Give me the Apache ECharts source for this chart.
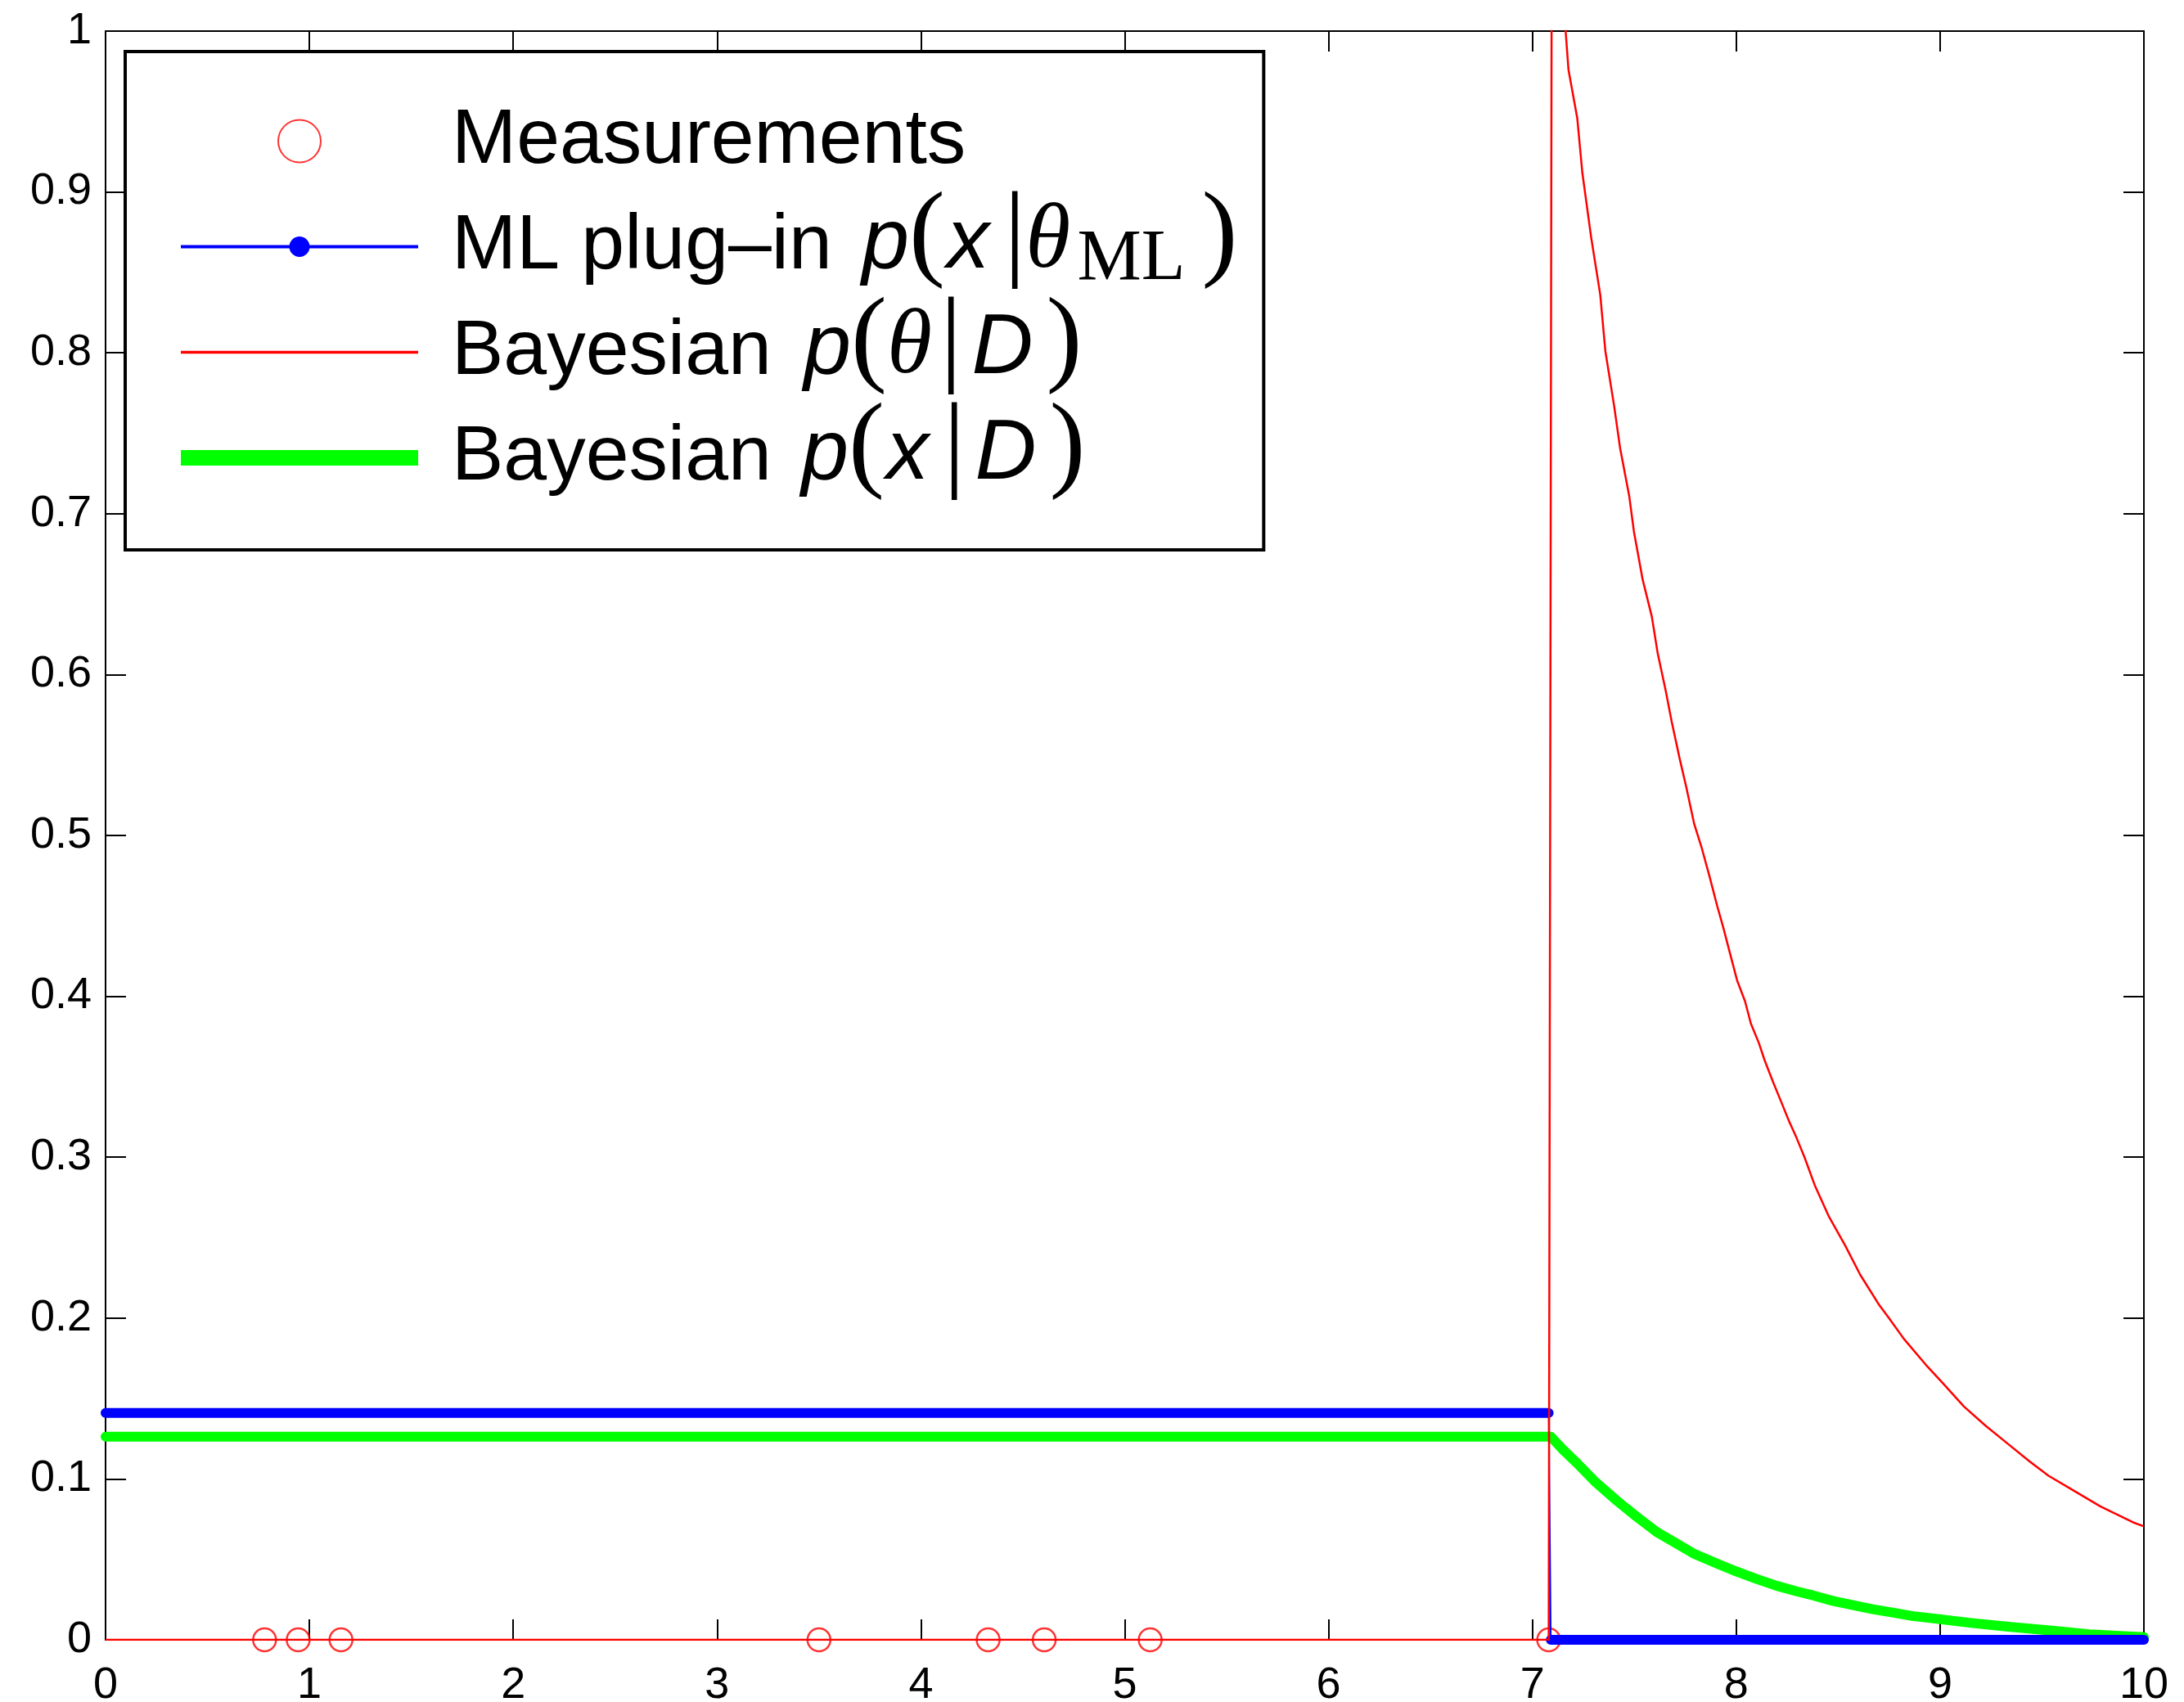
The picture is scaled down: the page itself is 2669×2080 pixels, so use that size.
<!DOCTYPE html>
<html>
<head>
<meta charset="utf-8">
<script src="https://cdn.jsdelivr.net/npm/echarts@6/dist/echarts.min.js"></script>
<style>
  html, body { margin: 0; padding: 0; background: #ffffff; }
  #chart { width: 2669px; height: 2080px; }
</style>
</head>
<body>
<div id="chart"></div>
<script>
// Observed samples, all plotted on the x-axis
const measurementX = [0.78, 0.945, 1.155, 3.50, 4.33, 4.605, 5.125, 7.08];
const measurementY = [0, 0, 0, 0, 0, 0, 0, 0];

// ML plug-in density p(x|θ_ML): uniform up to the largest sample
const mlX = [0, 7.08, 7.09, 10];
const mlY = [0.141, 0.141, 0, 0];

// Posterior p(θ|D)
const postX = [0, 7.08, 7.095, 7.163, 7.177, 7.220, 7.245, 7.288, 7.333, 7.358, 7.401, 7.430, 7.475, 7.498,
  7.541, 7.586, 7.615, 7.654, 7.683, 7.722, 7.755, 7.794, 7.829, 7.868, 7.907, 7.936, 7.975, 8.004,
  8.043, 8.072, 8.111, 8.140, 8.183, 8.222, 8.257, 8.296, 8.335, 8.387, 8.455, 8.535, 8.608, 8.702,
  8.749, 8.823, 8.930, 9.010, 9.117, 9.224, 9.331, 9.438, 9.532, 9.652, 9.786, 9.947, 10];
const postY = [0, 0, 1.07, 1.0, 0.976, 0.946, 0.912, 0.872, 0.836, 0.801, 0.767, 0.741, 0.711, 0.689,
  0.659, 0.636, 0.613, 0.590, 0.571, 0.548, 0.530, 0.507, 0.493, 0.475, 0.456, 0.443, 0.424, 0.410,
  0.397, 0.383, 0.371, 0.360, 0.346, 0.334, 0.323, 0.312, 0.300, 0.282, 0.263, 0.245, 0.227, 0.208,
  0.200, 0.187, 0.171, 0.160, 0.145, 0.133, 0.122, 0.111, 0.102, 0.093, 0.083, 0.073, 0.0705];

// Posterior predictive p(x|D)
const predX = [0, 7.09, 7.15, 7.22, 7.31, 7.415, 7.51, 7.61, 7.705, 7.79, 7.905, 8.0, 8.1, 8.2, 8.3,
  8.38, 8.477, 8.573, 8.670, 8.766, 8.863, 8.960, 9.152, 9.345, 9.538, 9.731, 10];
const predY = [0.1263, 0.1263, 0.1182, 0.1097, 0.0980, 0.0864, 0.0767, 0.0670, 0.0600, 0.0537, 0.0474,
  0.0425, 0.0378, 0.0335, 0.0300, 0.0275, 0.0241, 0.0215, 0.0190, 0.0170, 0.0148, 0.0134, 0.0105,
  0.0080, 0.0058, 0.0034, 0.0017];

const xTickLabels = ['0', '1', '2', '3', '4', '5', '6', '7', '8', '9', '10'];
const yTickLabels = ['0', '0.1', '0.2', '0.3', '0.4', '0.5', '0.6', '0.7', '0.8', '0.9', '1'];

const NAME_MEAS = 'Measurements';
const NAME_ML = 'ML plug-in p(x|θML)';
const NAME_POST = 'Bayesian p(θ|D)';
const NAME_PRED = 'Bayesian p(x|D)';

const SANS = '"Liberation Sans", Arial, Helvetica, sans-serif';
const SERIF = '"Liberation Serif", "Times New Roman", serif';
const ROW_H = 155;

const pairs = (xs, ys) => xs.map((x, i) => [x, ys[i]]);

// Horizontal runs of the ML density, broken where the value steps
function horizontalRuns(xs, ys) {
  const out = [];
  for (let i = 0; i < xs.length; i++) {
    out.push([xs[i], ys[i]]);
    if (i < xs.length - 1 && ys[i + 1] !== ys[i]) out.push([xs[i], '-']);
  }
  return out;
}

const legendText = {};
legendText[NAME_MEAS] = '{t0|Measurements}';
legendText[NAME_ML] = '{t0|ML plug\u2013in }{pI|p}{lp|(}{xI|x}{bar|\u007c}{th|θ}{sub|ML}{rpML|)}';
legendText[NAME_POST] = '{t0|Bayesian }{pI2|p}{lp|(}{th|θ}{bar2|\u007c}{dI|D}{rp|)}';
legendText[NAME_PRED] = '{t0|Bayesian }{pI|p}{lp|(}{xI|x}{bar|\u007c}{dI|D}{rp|)}';

const axisLineStyle = { color: '#000000', width: 2 };
const tickStyle = { show: true, inside: true, length: 25, lineStyle: { color: '#000000', width: 2 } };

const chart = echarts.init(document.getElementById('chart'), null, { renderer: 'canvas' });

chart.setOption({
  animation: false,
  backgroundColor: '#ffffff',
  grid: { left: 129, top: 38, right: 49, bottom: 76, containLabel: false, outerBoundsMode: 'none' },
  xAxis: [
    {
      type: 'value', min: 0, max: 10, interval: 1, position: 'bottom',
      axisLine: { show: true, onZero: false, lineStyle: axisLineStyle },
      axisTick: tickStyle,
      splitLine: { show: false },
      axisLabel: {
        show: true, margin: 29, color: '#000000', fontFamily: SANS, fontSize: 54,
        formatter: v => xTickLabels[Math.round(v)]
      }
    },
    {
      type: 'value', min: 0, max: 10, interval: 1, position: 'top',
      axisLine: { show: true, onZero: false, lineStyle: axisLineStyle },
      axisTick: tickStyle,
      splitLine: { show: false },
      axisLabel: { show: false }
    }
  ],
  yAxis: [
    {
      type: 'value', min: 0, max: 1, interval: 0.1, position: 'left',
      axisLine: { show: true, onZero: false, lineStyle: axisLineStyle },
      axisTick: tickStyle,
      splitLine: { show: false },
      axisLabel: {
        show: true, margin: 17, color: '#000000', fontFamily: SANS, fontSize: 54,
        formatter: v => yTickLabels[Math.round(v * 10)]
      }
    },
    {
      type: 'value', min: 0, max: 1, interval: 0.1, position: 'right',
      axisLine: { show: true, onZero: false, lineStyle: axisLineStyle },
      axisTick: tickStyle,
      splitLine: { show: false },
      axisLabel: { show: false }
    }
  ],
  legend: {
    orient: 'vertical',
    left: 153,
    top: 63,
    padding: [32, 32, 35, 68],
    itemGap: -26,
    itemWidth: 290,
    itemHeight: 52,
    backgroundColor: '#ffffff',
    borderColor: '#000000',
    borderWidth: 4,
    borderRadius: 0,
    selectedMode: false,
    data: [
      { name: NAME_MEAS, icon: 'emptyCircle', itemStyle: { color: '#ff0000', borderWidth: 0 } },
      {
        name: NAME_ML,
        icon: 'path://M0,10.5H133V14.5H0Z M157,10.5H290V14.5H157Z M132.5,12.5A12.5,12.5 0 1,1 157.5,12.5A12.5,12.5 0 1,1 132.5,12.5Z',
        itemStyle: { color: '#0000ff', borderWidth: 0 }
      },
      { name: NAME_POST, icon: 'path://M0,0H290V3.5H0Z', itemStyle: { color: '#ff0000', borderWidth: 0 } },
      { name: NAME_PRED, icon: 'path://M0,0H290V19H0Z', itemStyle: { color: '#00ff00', borderWidth: 0 } }
    ],
    formatter: name => legendText[name],
    textStyle: {
      color: '#000000', fontFamily: SANS, fontSize: 95, lineHeight: ROW_H,
      rich: {
        t0: { fontFamily: SANS, fontSize: 95, lineHeight: ROW_H, padding: [0, 0, 0, 36] },
        pI: { fontFamily: SANS, fontStyle: 'italic', fontSize: 104, lineHeight: ROW_H, padding: [0, 0, 6, 10] },
        pI2: { fontFamily: SANS, fontStyle: 'italic', fontSize: 104, lineHeight: ROW_H, padding: [0, 0, 6, 13] },
        xI: { fontFamily: SANS, fontStyle: 'italic', fontSize: 104, lineHeight: ROW_H, padding: [0, 0, 6, 2] },
        dI: { fontFamily: SANS, fontStyle: 'italic', fontSize: 104, lineHeight: ROW_H, padding: [0, 0, 6, 12] },
        lp: { fontFamily: SERIF, fontSize: 132, lineHeight: ROW_H, padding: [0, 0, 23, 0] },
        rp: { fontFamily: SERIF, fontSize: 132, lineHeight: ROW_H, padding: [0, 0, 23, 16] },
        rpML: { fontFamily: SERIF, fontSize: 132, lineHeight: ROW_H, padding: [0, 0, 23, 20] },
        bar: { fontFamily: SERIF, fontSize: 132, lineHeight: ROW_H, padding: [0, 0, 23, 18] },
        bar2: { fontFamily: SERIF, fontSize: 132, lineHeight: ROW_H, padding: [0, 0, 23, 10] },
        th: { fontFamily: SERIF, fontStyle: 'italic', fontSize: 112, lineHeight: ROW_H, padding: [0, 0, 10, 0] },
        sub: { fontFamily: SERIF, fontSize: 88, lineHeight: ROW_H, padding: [32, 0, 0, 8] }
      }
    }
  },
  series: [
    {
      name: NAME_MEAS,
      type: 'scatter',
      data: pairs(measurementX, measurementY),
      symbol: 'circle',
      symbolSize: 28,
      itemStyle: { color: 'rgba(0,0,0,0)', borderColor: '#ff0000', borderWidth: 2.5 },
      emphasis: { disabled: true },
      clip: false
    },
    {
      name: NAME_PRED,
      type: 'line',
      data: pairs(predX, predY),
      showSymbol: false,
      symbol: 'none',
      color: '#00ff00',
      lineStyle: { color: '#00ff00', width: 12, cap: 'round', join: 'round' },
      emphasis: { disabled: true }
    },
    {
      name: NAME_ML,
      type: 'line',
      data: pairs(mlX, mlY),
      showSymbol: false,
      symbol: 'none',
      color: '#0000ff',
      lineStyle: { color: '#0000ff', width: 2 },
      emphasis: { disabled: true }
    },
    {
      name: NAME_ML,
      type: 'line',
      data: horizontalRuns(mlX, mlY),
      connectNulls: false,
      showSymbol: false,
      symbol: 'none',
      color: '#0000ff',
      lineStyle: { color: '#0000ff', width: 12, cap: 'round' },
      emphasis: { disabled: true }
    },
    {
      name: NAME_POST,
      type: 'line',
      data: pairs(postX, postY),
      showSymbol: false,
      symbol: 'none',
      color: '#ff0000',
      lineStyle: { color: '#ff0000', width: 2.5 },
      emphasis: { disabled: true }
    }
  ]
});
</script>
</body>
</html>
